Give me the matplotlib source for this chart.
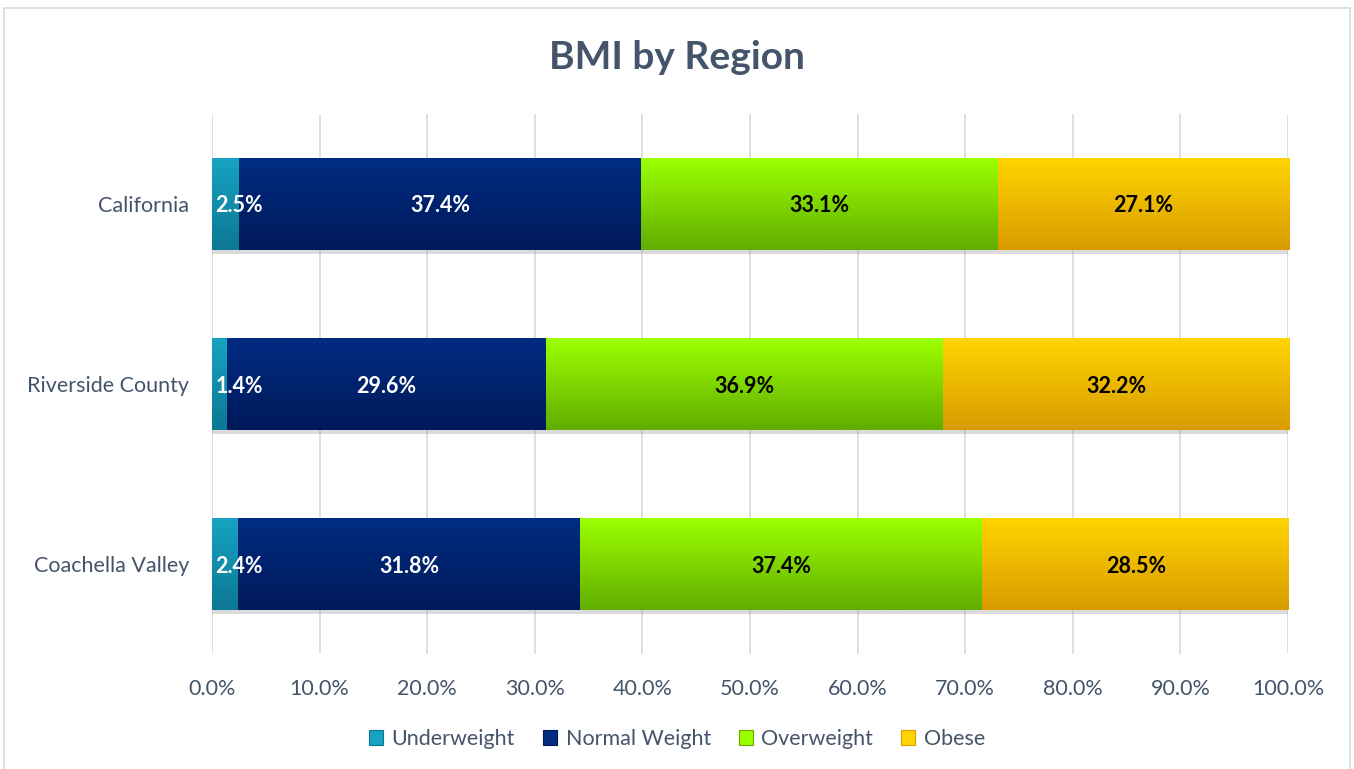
import numpy as np
import matplotlib.pyplot as plt
import matplotlib.patheffects as pe
from matplotlib.colors import LinearSegmentedColormap
from matplotlib.patches import Rectangle, Patch

plt.rcParams['font.family'] = ['Lato', 'DejaVu Sans']

# Data
regions = ['Coachella Valley', 'Riverside County', 'California']
series = ['Underweight', 'Normal Weight', 'Overweight', 'Obese']
underweight = [2.4, 1.4, 2.5]
normal = [31.8, 29.6, 37.4]
overweight = [37.4, 36.9, 33.1]
obese = [28.5, 32.2, 27.1]
values = [underweight, normal, overweight, obese]

# gradient colours (top, bottom) per series
grad = [('#17a3c3', '#0c7893'), ('#002c82', '#00195a'),
        ('#9cff00', '#62ad00'), ('#ffd400', '#d89c00')]
label_colors = ['white', 'white', 'black', 'black']
slate = '#44546a'

fig = plt.figure(figsize=(13.54, 7.69), dpi=100)
ax = fig.add_axes([0.1566, 0.1495, 0.7947, 0.7023])

# outer chart frame
fig.patches.append(Rectangle((0.003, -0.01), 0.994, 0.999, transform=fig.transFigure,
                             fill=False, edgecolor='#d9d9d9', linewidth=1.2))

y = np.arange(len(regions))
left = np.zeros(len(regions))
for i, name in enumerate(series):
    vals = np.array(values[i])
    bars = ax.barh(y, vals, left=left, height=0.51, color=grad[i][0],
                   zorder=2, linewidth=0,
                   path_effects=[pe.SimplePatchShadow(offset=(0, -3), shadow_rgbFace='#999999', alpha=0.35),
                                 pe.Normal()])
    cmap = LinearSegmentedColormap.from_list(name, [grad[i][1], grad[i][0]])
    for b in bars:
        x0, y0 = b.get_x(), b.get_y()
        w, h = b.get_width(), b.get_height()
        im = ax.imshow(np.linspace(0, 1, 64).reshape(-1, 1), cmap=cmap, origin='lower',
                       extent=[x0, x0 + w, y0, y0 + h], aspect='auto', zorder=3)
        im.set_clip_path(b)
    for j, v in enumerate(vals):
        if i == 0:
            ax.text(left[j] + 0.3, y[j], f'{v:.1f}%', ha='left', va='center_baseline',
                    color=label_colors[i], fontsize=15.5, fontweight='bold', zorder=5)
        else:
            ax.text(left[j] + v / 2, y[j], f'{v:.1f}%', ha='center', va='center_baseline',
                    color=label_colors[i], fontsize=15.5, fontweight='bold', zorder=5)
    left += vals

ax.set_xlim(0, 100)
ax.set_ylim(-0.5, 2.5)
ax.set_xticks(np.arange(0, 101, 10))
ax.set_xticklabels([f'{t:.1f}%' for t in np.arange(0, 101, 10)])
ax.set_yticks(y)
ax.set_yticklabels(regions)
ax.tick_params(axis='both', length=0, labelsize=15.5, labelcolor=slate)
ax.tick_params(axis='x', pad=18)
ax.tick_params(axis='y', pad=16.5)
ax.grid(axis='x', color='#d9d9d9', linewidth=1.2, zorder=0)
ax.set_axisbelow(True)
for s in ax.spines.values():
    s.set_visible(False)

fig.text(0.5, 0.925, 'BMI by Region', ha='center', va='center', fontsize=28,
         fontweight='bold', color=slate)

handles = [Patch(facecolor=grad[i][0], edgecolor=grad[i][1], linewidth=0.8) for i in range(len(series))]
leg = fig.legend(handles, series, loc='center', bbox_to_anchor=(0.5, 0.039), ncol=4,
                 frameon=False, fontsize=15.5, handlelength=0.65, handleheight=0.65,
                 columnspacing=1.3, handletextpad=0.4, labelcolor=slate)

fig.savefig('out.png', dpi=100)
